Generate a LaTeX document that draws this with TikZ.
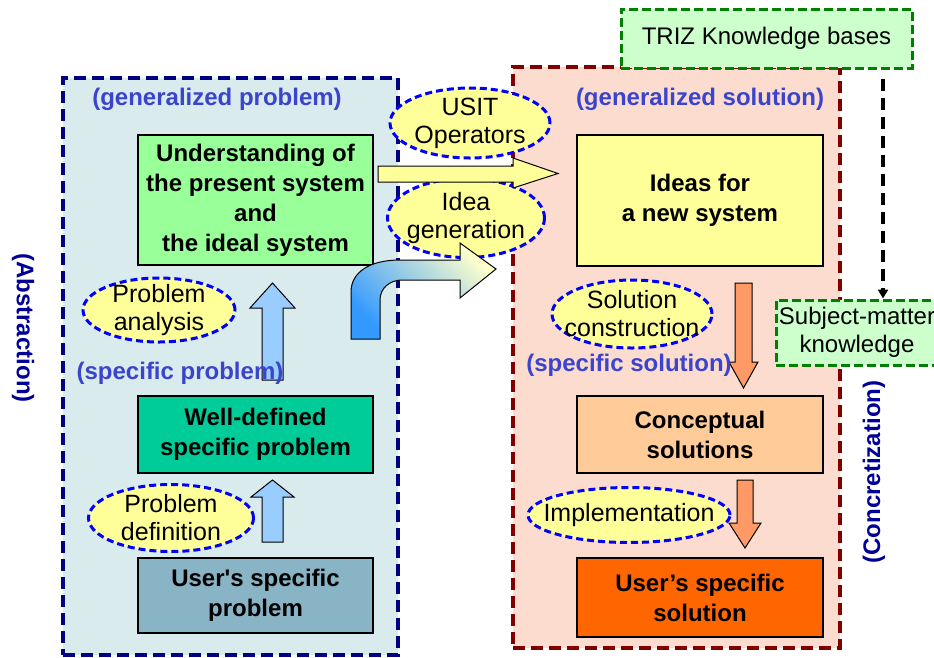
\documentclass[tikz,border=0pt]{standalone}
\usepackage{fontspec}
\setmainfont{Liberation Sans}
\usetikzlibrary{shapes.geometric,arrows.meta}

\definecolor{probfill}{HTML}{DAEBEE}
\definecolor{solfill}{HTML}{FCDCCE}
\definecolor{probline}{HTML}{000080}
\definecolor{solline}{HTML}{800000}
\definecolor{kbline}{HTML}{008000}
\definecolor{kbfill}{HTML}{CCFFCC}
\definecolor{opline}{HTML}{0000FF}
\definecolor{opfill}{HTML}{FFFF99}
\definecolor{tagblue}{HTML}{3A44CC}
\definecolor{sideblue}{HTML}{000099}
\definecolor{undfill}{HTML}{99FF99}
\definecolor{wdpfill}{HTML}{00CC99}
\definecolor{uspfill}{HTML}{88B4C6}
\definecolor{ideafill}{HTML}{FFFF99}
\definecolor{cptfill}{HTML}{FFCC99}
\definecolor{ussfill}{HTML}{FF6600}
\definecolor{upfill}{HTML}{99CCFF}
\definecolor{downfill}{HTML}{FF9966}
\definecolor{curvelow}{HTML}{3399FF}
\definecolor{curvehigh}{HTML}{FFFFCC}

\newcommand\boxfont{\fontsize{24}{30}\selectfont\bfseries}
\newcommand\opfont{\fontsize{25}{28}\selectfont}
\newcommand\kbfont{\fontsize{24}{28}\selectfont}

\begin{document}
\begin{tikzpicture}[x=1pt, y=-1pt,
    probframe/.style={draw=probline, fill=probfill, line width=3.5pt, dash pattern=on 12pt off 6pt, inner sep=0pt},
    solframe/.style={draw=solline, fill=solfill, line width=3.5pt, dash pattern=on 12pt off 6pt, inner sep=0pt},
    kbbox/.style={draw=kbline, fill=kbfill, line width=3pt, dash pattern=on 9pt off 4pt, align=center, font=\kbfont, inner sep=0pt},
    stepbox/.style={draw=black, line width=1.2pt, align=center, font=\boxfont, inner sep=0pt},
    opellipse/.style={ellipse, draw=opline, fill=opfill, line width=3pt, dash pattern=on 7pt off 4pt, inner sep=0pt},
    optext/.style={align=center, font=\opfont, inner sep=0pt},
    tag/.style={text=tagblue, font=\boxfont, inner sep=0pt},
    side/.style={text=sideblue, font=\boxfont, inner sep=0pt},
    blkup/.style={draw=black, line width=1pt, fill=upfill},
    blkdown/.style={draw=black, line width=1pt, fill=downfill},
    kbarrow/.style={draw=black, line width=3.5pt, dash pattern=on 12pt off 7pt, -{Triangle[length=9pt,width=10pt]}}]
  \useasboundingbox (0,0) rectangle (934,657);
  \clip (0,0) rectangle (934,657);

  % the two areas
  \node[probframe, minimum width=335pt, minimum height=577pt] (probarea) at (230.5,366.5) {};
  \node[solframe, minimum width=327pt, minimum height=581pt] (solarea) at (676.5,357.5) {};

  % knowledge bases
  \node[kbbox, minimum width=291pt, minimum height=59pt] (triz) at (766.5,38.5) {TRIZ Knowledge bases};
  \node[kbbox, minimum width=162pt, minimum height=65pt] (subj) at (857,332.5) {Subject-matter\\knowledge};

  % problem side
  \node[stepbox, fill=undfill, minimum width=235pt, minimum height=130pt] (und) at (255.5,200) {Understanding of\\the present system\\and\\the ideal system};
  \node[stepbox, fill=wdpfill, minimum width=235pt, minimum height=77pt] (wdp) at (255.5,434.5) {Well-defined\\specific problem};
  \node[stepbox, fill=uspfill, minimum width=235pt, minimum height=75pt] (usp) at (255.5,595.5) {User\textquotesingle s specific\\problem};

  % solution side
  \node[stepbox, fill=ideafill, minimum width=246pt, minimum height=131pt] (ideas) at (700,200.5) {Ideas for\\a new system};
  \node[stepbox, fill=cptfill, minimum width=246pt, minimum height=77pt] (cpt) at (700,434.5) {Conceptual\\solutions};
  \node[stepbox, fill=ussfill, minimum width=246pt, minimum height=79pt] (uss) at (700,597.5) {User’s specific\\solution};

  % operations
  \node[opellipse, minimum width=152pt, minimum height=64pt] (analysis) at (159,310) {};
  \node[opellipse, minimum width=165pt, minimum height=67pt] (definition) at (171,518) {};
  \node[opellipse, minimum width=160pt, minimum height=70pt] (usit) at (470,123) {};
  \node[opellipse, minimum width=157pt, minimum height=79pt] (ideagen) at (466,218) {};
  \node[opellipse, minimum width=160pt, minimum height=68pt] (construct) at (632,314) {};
  \node[opellipse, minimum width=202pt, minimum height=55pt] (implement) at (629,515) {};

  % block arrows
  \draw[blkup] (262,380) -- (262,308) -- (250,308) -- (272.5,283) -- (295,308) -- (283,308) -- (283,380) -- cycle;
  \draw[blkup] (262,542) -- (262,497) -- (251,497) -- (272.5,480) -- (294,497) -- (283,497) -- (283,542) -- cycle;
  \draw[blkdown] (735,283) -- (735,362) -- (729,362) -- (743.5,388) -- (758,362) -- (752,362) -- (752,283) -- cycle;
  \draw[blkdown] (737,480) -- (737,523) -- (729,523) -- (745,548) -- (761,523) -- (753,523) -- (753,480) -- cycle;
  \draw[draw=black, line width=1pt, fill=opfill] (378,166) -- (513,166) -- (513,158) -- (558,173.5) -- (513,188) -- (513,182) -- (378,182) -- cycle;
  \draw[draw=black, line width=1pt, top color=curvehigh, bottom color=curvelow, shading angle=-45]
    (351,339) -- (351,292) .. controls (351,272) and (370,260) .. (400,260) -- (460,260) -- (460,243)
    -- (496,269) -- (460,298) -- (460,280) -- (402,280) .. controls (390,280) and (380,288) .. (380,300)
    -- (380,339) -- cycle;

  % operation texts
  \node[optext] at (analysis) {Problem\\analysis};
  \node[optext] at (definition) {Problem\\definition};
  \node[optext] at (usit) {USIT\\Operators};
  \node[optext] at (ideagen) {Idea\\generation};
  \node[optext] at (construct) {Solution\\construction};
  \node[optext] at (implement) {Implementation};

  % area labels
  \node[tag] (genprob) at (217,99) {(generalized problem)};
  \node[tag] (specprob) at (180,373) {(specific problem)};
  \node[tag] (gensol) at (700,99) {(generalized solution)};
  \node[tag] (specsol) at (629,365) {(specific solution)};
  \node[side, rotate=-90] (abstr) at (23,328) {(Abstraction)};
  \node[side, rotate=90] (concr) at (874,472) {(Concretization)};

  % knowledge flow
  \coordinate (kbx) at (883,0);
  \draw[kbarrow, shorten <=9pt] (triz.south -| kbx) -- (subj.north -| kbx);
\end{tikzpicture}
\end{document}
